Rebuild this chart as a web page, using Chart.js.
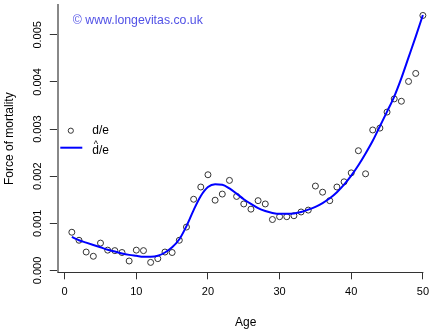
<!DOCTYPE html>
<html>
<head>
<meta charset="utf-8">
<script src="https://cdn.jsdelivr.net/npm/chart.js@4/dist/chart.umd.min.js"></script>
<style>
  html, body { margin: 0; padding: 0; background: #fff; }
  #wrap { width: 435px; height: 332px; }
</style>
</head>
<body>
<div id="wrap"><canvas id="myChart" width="435" height="332"></canvas></div>
<script>
// ages and observed d/e
const ages = [1, 2, 3, 4, 5, 6, 7, 8, 9, 10, 11, 12, 13, 14, 15, 16, 17, 18, 19, 20,
  21, 22, 23, 24, 25, 26, 27, 28, 29, 30, 31, 32, 33, 34, 35, 36, 37, 38, 39, 40,
  41, 42, 43, 44, 45, 46, 47, 48, 49, 50];
const observed = [0.00081, 0.00064, 0.00039, 0.00030, 0.00058, 0.00043, 0.00042, 0.00038, 0.00020, 0.00043,
  0.00042, 0.00017, 0.00025, 0.00039, 0.00038, 0.00064, 0.00092, 0.00151, 0.00177, 0.00203,
  0.00149, 0.00162, 0.00191, 0.00157, 0.00141, 0.00130, 0.00148, 0.00141, 0.00108, 0.00114,
  0.00114, 0.00116, 0.00124, 0.00128, 0.00179, 0.00166, 0.00148, 0.00177, 0.00188, 0.00207,
  0.00254, 0.00205, 0.00298, 0.00302, 0.00336, 0.00364, 0.00359, 0.00401, 0.00418, 0.00541];
// fitted (smoothed) d/e
const fitted = [0.00071, 0.00064, 0.00059, 0.00054, 0.00049, 0.00044, 0.00040, 0.00036, 0.00033, 0.00031,
  0.00029, 0.00029, 0.00031, 0.00038, 0.00049, 0.00066, 0.00094, 0.00128, 0.00158, 0.00177,
  0.00183, 0.00182, 0.00174, 0.00163, 0.00151, 0.00141, 0.00132, 0.00126, 0.00122, 0.00120,
  0.00120, 0.00121, 0.00124, 0.00129, 0.00135, 0.00143, 0.00153, 0.00166, 0.00182, 0.00201,
  0.00223, 0.00248, 0.00275, 0.00306, 0.00337, 0.00369, 0.00408, 0.00452, 0.00496, 0.00542];

const xTicks = [0, 10, 20, 30, 40, 50];
const yTicks = [0, 0.001, 0.002, 0.003, 0.004, 0.005];

const FONT = "'Liberation Sans', Arial, sans-serif";

// bottom axis line (only up to the last tick), legend and watermark
const extras = {
  id: "extras",
  afterDraw(chart) {
    const { ctx, chartArea } = chart;
    const xs = chart.scales.x;
    ctx.save();
    ctx.strokeStyle = "#333";
    ctx.lineWidth = 1;
    ctx.beginPath();
    const yb = Math.round(chartArea.bottom) + 0.5;
    ctx.moveTo(chartArea.left, yb);
    ctx.lineTo(xs.getPixelForValue(50) + 0.5, yb);
    ctx.stroke();

    // watermark
    ctx.fillStyle = "#5252e6";
    ctx.font = "12.3px " + FONT;
    ctx.textBaseline = "middle";
    ctx.textAlign = "left";
    ctx.fillText("\u00a9 www.longevitas.co.uk", chartArea.left + 15, chartArea.top + 16);

    // legend (left, middle)
    const lx = chartArea.left;
    const my = (chartArea.top + chartArea.bottom) / 2;
    ctx.strokeStyle = "#333";
    ctx.lineWidth = 1;
    ctx.beginPath();
    ctx.arc(lx + 13, my - 8, 2.6, 0, Math.PI * 2);
    ctx.stroke();
    ctx.strokeStyle = "blue";
    ctx.lineWidth = 2;
    ctx.beginPath();
    ctx.moveTo(lx + 2.5, my + 9);
    ctx.lineTo(lx + 24.5, my + 9);
    ctx.stroke();
    ctx.fillStyle = "#000";
    ctx.font = "12px " + FONT;
    ctx.fillText("d/e", lx + 34.5, my - 8);
    ctx.fillText("d/e", lx + 34.5, my + 12);
    ctx.font = "9px " + FONT;
    ctx.textAlign = "center";
    ctx.fillText("^", lx + 38, my + 6);
    ctx.restore();
  }
};

const ctx = document.getElementById("myChart");
new Chart(ctx, {
  type: "scatter",
  data: {
    datasets: [
      {
        label: "fitted",
        data: ages.map((a, i) => ({ x: a, y: fitted[i] })),
        showLine: true,
        borderColor: "blue",
        borderWidth: 2,
        pointRadius: 0,
        cubicInterpolationMode: "monotone",
        clip: false,
        order: 0,
      },
      {
        label: "observed",
        data: ages.map((a, i) => ({ x: a, y: observed[i] })),
        showLine: false,
        pointStyle: "circle",
        pointRadius: 3,
        borderColor: "#333",
        borderWidth: 1,
        backgroundColor: "rgba(0,0,0,0)",
        clip: false,
        order: 1,
      },
    ],
  },
  options: {
    responsive: false,
    animation: false,
    events: [],
    layout: { autoPadding: false, padding: { top: 4.6, right: 0, left: 0, bottom: 0 } },
    plugins: { legend: { display: false }, tooltip: { enabled: false } },
    scales: {
      x: {
        type: "linear",
        min: -0.96,
        max: 51.5,
        afterBuildTicks: (s) => { s.ticks = xTicks.map((v) => ({ value: v })); },
        afterFit: (s) => { s.height = 59.7; },
        grid: { drawOnChartArea: false, tickLength: 7, tickColor: "#333" },
        border: { display: false },
        ticks: { color: "#000", font: { family: FONT, size: 11 }, padding: 6, maxRotation: 0 },
        title: { display: true, text: "Age", color: "#000", font: { family: FONT, size: 12 }, padding: { top: 0, bottom: 2 } },
      },
      y: {
        type: "linear",
        min: -0.00004,
        max: 0.00563,
        afterBuildTicks: (s) => { s.ticks = yTicks.map((v) => ({ value: v })); },
        afterFit: (s) => { s.width = 57.8; },
        grid: { drawOnChartArea: false, tickLength: 8, tickColor: "#333" },
        border: { display: true, color: "#888", width: 2 },
        ticks: {
          color: "#000",
          font: { family: FONT, size: 11 },
          minRotation: 90,
          maxRotation: 90,
          crossAlign: "center",
          padding: -1.5,
          callback: (v) => v.toFixed(3),
        },
        title: { display: true, text: "Force of mortality", color: "#000", font: { family: FONT, size: 12 }, padding: { top: 2, bottom: 0 } },
      },
    },
  },
  plugins: [extras],
});
</script>
</body>
</html>
